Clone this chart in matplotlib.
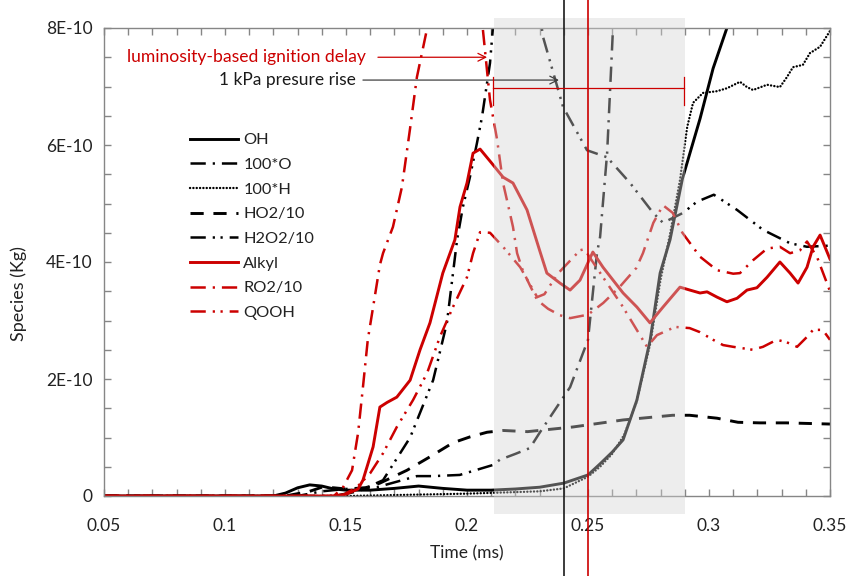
import matplotlib
matplotlib.use("Agg")
import matplotlib.pyplot as plt
import numpy as np

plt.rcParams['font.family'] = ['Lato', 'DejaVu Sans']
plt.rcParams['lines.scale_dashes'] = False

# ---------------- data (values in units of 1E-10 kg) ----------------
oh_t = [0.05, 0.12, 0.125, 0.13, 0.135, 0.14, 0.145, 0.15, 0.16, 0.17, 0.18, 0.19, 0.2, 0.21,
        0.22, 0.23, 0.24, 0.25, 0.255, 0.26, 0.2645, 0.2702, 0.2757, 0.2798, 0.2839, 0.289,
        0.2963, 0.3017, 0.3074, 0.312]
oh_y = [0, 0, 0.05, 0.14, 0.19, 0.17, 0.12, 0.1, 0.1, 0.13, 0.17, 0.13, 0.1, 0.1,
        0.12, 0.15, 0.22, 0.36, 0.55, 0.75, 0.96, 1.64, 2.67, 3.81, 4.38, 5.42,
        6.45, 7.31, 8.0, 8.6]

o_t = [0.05, 0.13, 0.14, 0.15, 0.1628, 0.1793, 0.186, 0.197, 0.2107, 0.2136, 0.22, 0.226,
       0.230, 0.2426, 0.25, 0.2537, 0.255, 0.2579, 0.2603, 0.264]
o_y = [0, 0, 0.08, 0.12, 0.15, 0.34, 0.34, 0.36, 0.53, 0.62, 0.72, 0.82,
       1.08, 1.86, 2.67, 4.15, 4.43, 5.86, 7.97, 9.5]

h_t = [0.05, 0.15, 0.2, 0.23, 0.24, 0.25, 0.255, 0.26, 0.265, 0.27, 0.2757, 0.28, 0.284,
       0.288, 0.291, 0.2934, 0.2975, 0.3033, 0.3074, 0.3128, 0.3157, 0.3182, 0.324, 0.3293,
       0.3322, 0.3347, 0.3388, 0.3417, 0.3459, 0.35]
h_y = [0, 0, 0.04, 0.08, 0.13, 0.33, 0.5, 0.72, 1.05, 1.6, 2.6, 3.7, 4.5,
       5.4, 6.31, 6.72, 6.89, 6.92, 6.97, 7.08, 6.99, 6.94, 7.03, 6.99,
       7.16, 7.33, 7.37, 7.57, 7.68, 7.95]

ho2_t = [0.05, 0.125, 0.135, 0.14, 0.145, 0.15, 0.158, 0.164, 0.1752, 0.1847, 0.1942, 0.2012,
         0.2083, 0.215, 0.225, 0.2438, 0.2645, 0.285, 0.292, 0.3033, 0.312, 0.321, 0.332, 0.35]
ho2_y = [0, 0, 0.08, 0.15, 0.14, 0.12, 0.14, 0.22, 0.44, 0.67, 0.91, 1.01,
         1.09, 1.12, 1.1, 1.18, 1.30, 1.38, 1.38, 1.33, 1.26, 1.25, 1.25, 1.23]

h2o2_t = [0.05, 0.145, 0.155, 0.1653, 0.1765, 0.186, 0.1917, 0.1959, 0.1983, 0.2012, 0.2041,
          0.2062, 0.2095, 0.2107, 0.215, 0.226, 0.2314, 0.2397, 0.2496, 0.2579, 0.2674,
          0.2769, 0.281, 0.2893, 0.295, 0.302, 0.3116, 0.3223, 0.3335, 0.3405, 0.35]
h2o2_y = [0, 0, 0.08, 0.27, 1.0, 1.98, 2.96, 4.38, 4.94, 5.45, 6.03,
          6.48, 7.4, 8.0, 9.5, 9.5, 7.85, 6.65, 5.91, 5.79, 5.35,
          4.84, 4.67, 4.84, 5.03, 5.15, 4.89, 4.55, 4.32, 4.26, 4.28]

alk_t = [0.05, 0.145, 0.15, 0.155, 0.157, 0.1612, 0.164, 0.167, 0.171, 0.1765, 0.1806, 0.1847,
         0.19, 0.195, 0.1971, 0.2, 0.2025, 0.2054, 0.21, 0.2149, 0.219, 0.2248, 0.23, 0.233,
         0.2384, 0.2426, 0.2467, 0.252, 0.2562, 0.2645, 0.2702, 0.2756, 0.281, 0.288, 0.2921,
         0.2963, 0.2992, 0.3033, 0.3074, 0.3116, 0.3157, 0.3198, 0.324, 0.3293, 0.3335,
         0.3368, 0.3405, 0.343, 0.3459, 0.35]
alk_y = [0, 0, 0.03, 0.12, 0.27, 0.84, 1.52, 1.6, 1.69, 1.98, 2.5, 2.96,
         3.81, 4.38, 4.94, 5.35, 5.86, 5.93, 5.7, 5.45, 5.35, 4.89, 4.2, 3.81,
         3.64, 3.52, 3.69, 4.17, 3.91, 3.47, 3.23, 2.96, 3.23, 3.57, 3.52,
         3.47, 3.49, 3.4, 3.32, 3.38, 3.52, 3.56, 3.74, 4.0, 3.81,
         3.64, 3.91, 4.26, 4.46, 4.05]

ro2_t = [0.05, 0.145, 0.1488, 0.1525, 0.155, 0.157, 0.159, 0.1612, 0.164, 0.1653, 0.1694,
         0.1731, 0.1764, 0.1793, 0.1834, 0.19, 0.2, 0.2065, 0.2095, 0.2124, 0.2149, 0.2165,
         0.219, 0.2207, 0.223, 0.226, 0.229, 0.2335, 0.2384, 0.2426, 0.25, 0.2563, 0.263,
         0.27, 0.2727, 0.277, 0.281, 0.285, 0.289, 0.2963, 0.3033, 0.31, 0.3128, 0.3182,
         0.324, 0.3293, 0.3335, 0.3376, 0.3405, 0.3446, 0.35]
ro2_y = [0, 0, 0.15, 0.44, 1.08, 1.86, 2.67, 3.23, 3.95, 4.15, 4.6,
         5.28, 6.26, 7.16, 7.97, 9.6, 9.6, 8.0, 6.77, 6.1, 5.35, 5.06,
         4.6, 4.15, 3.86, 3.6, 3.35, 3.2, 3.09, 3.04, 3.1, 3.3, 3.57,
         3.9, 4.15, 4.67, 4.97, 4.84, 4.5, 4.09, 3.86, 3.8, 3.81, 4.03,
         4.23, 4.26, 4.15, 4.2, 4.35, 4.09, 3.5]

qooh_t = [0.05, 0.148, 0.1545, 0.16, 0.1653, 0.171, 0.1777, 0.1835, 0.1888, 0.1942, 0.2,
          0.2025, 0.2054, 0.2095, 0.2149, 0.222, 0.229, 0.232, 0.2375, 0.2467, 0.2485, 0.252,
          0.264, 0.2744, 0.2785, 0.286, 0.292, 0.2963, 0.3017, 0.3058, 0.31, 0.318, 0.3223,
          0.328, 0.332, 0.3364, 0.3405, 0.343, 0.347, 0.35]
qooh_y = [0, 0, 0.15, 0.39, 0.73, 1.18, 1.64, 2.1, 2.72, 3.23, 3.74,
          4.15, 4.51, 4.5, 4.26, 3.91, 3.4, 3.45, 3.8, 4.2, 4.22, 4.0,
          3.26, 2.55, 2.75, 2.89, 2.87, 2.8, 2.67, 2.58, 2.55, 2.5, 2.55,
          2.67, 2.63, 2.55, 2.72, 2.84, 2.84, 2.67]

x_ticks = [0.05, 0.1, 0.15, 0.2, 0.25, 0.3, 0.35]
x_tick_labels = ["0.05", "0.1", "0.15", "0.2", "0.25", "0.3", "0.35"]
y_ticks = [0, 2, 4, 6, 8]
y_tick_labels = ["0", "2E-10", "4E-10", "6E-10", "8E-10"]

shade_start, shade_end = 0.211, 0.29
pressure_t = 0.24
lum_t = 0.25

# ---------------- figure ----------------
W, H = 850, 576
fig = plt.figure(figsize=(W / 100, H / 100), dpi=100)
ax = fig.add_axes([104 / W, 80 / H, (830 - 104) / W, (496 - 28) / H])
ax.set_xlim(0.05, 0.35)
ax.set_ylim(0, 8)

RED = '#cc0000'
BLK = '#000000'
lw = 1.8

dash_dot = (0, (11, 5, 1.6, 5))
dash_dot_dot = (0, (11, 5, 1.6, 4, 1.6, 5))

ax.plot(oh_t, oh_y, color=BLK, lw=2.1, label='OH')
ax.plot(o_t, o_y, color=BLK, lw=lw, linestyle=dash_dot, label='100*O')
ax.plot(h_t, h_y, color=BLK, lw=1.7, linestyle=(0, (0.1, 2.3)), dash_capstyle='round', label='100*H')
ax.plot(ho2_t, ho2_y, color=BLK, lw=2.1, linestyle=(0, (9.5, 7)), label='HO2/10')
ax.plot(h2o2_t, h2o2_y, color=BLK, lw=lw, linestyle=dash_dot_dot, label='H2O2/10')
ax.plot(alk_t, alk_y, color=RED, lw=2.1, label='Alkyl')
ax.plot(ro2_t, ro2_y, color=RED, lw=lw, linestyle=dash_dot, label='RO2/10')
ax.plot(qooh_t, qooh_y, color=RED, lw=lw, linestyle=dash_dot_dot, label='QOOH')

# shaded window (overlays the lines, extends outside the axes)
ax.axvspan(shade_start, shade_end, ymin=(496 - 514) / 468, ymax=(496 - 18) / 468,
           facecolor='#d2d2d2', alpha=0.4, edgecolor='none', zorder=5, clip_on=False)

# vertical markers spanning the full figure height
ax.axvline(pressure_t, ymin=-80 / 468, ymax=1 + 28 / 468, color='#1a1a1a', lw=1.2,
           zorder=6, clip_on=False)
ax.axvline(lum_t, ymin=-80 / 468, ymax=1 + 28 / 468, color=RED, lw=1.2,
           zorder=6, clip_on=False)

# annotations
ax.annotate('', xy=(0.2083, 7.5), xytext=(0.1632, 7.5),
            arrowprops=dict(arrowstyle='->', color=RED, lw=0.9, shrinkA=0, shrinkB=0,
                            mutation_scale=14), zorder=7)
ax.text(0.1583, 7.5, 'luminosity-based ignition delay', color=RED, fontsize=12.6,
        ha='right', va='center', zorder=7)
ax.annotate('', xy=(0.238, 7.11), xytext=(0.157, 7.11),
            arrowprops=dict(arrowstyle='->', color='#404040', lw=0.9, shrinkA=0, shrinkB=0,
                            mutation_scale=14), zorder=7)
ax.text(0.1541, 7.11, '1 kPa presure rise', color='#1a1a1a', fontsize=12.5,
        ha='right', va='center', zorder=7)

# red bracket
ax.plot([shade_start - 0.0003, shade_end - 0.0003], [6.97, 6.97], color=RED, lw=0.9, zorder=7,
        clip_on=False)
ax.plot([shade_start - 0.0003] * 2, [6.68, 7.17], color=RED, lw=0.9, zorder=7)
ax.plot([shade_end - 0.0003] * 2, [6.68, 7.17], color=RED, lw=0.9, zorder=7)

# axes styling
spine_col = '#868686'
for s in ax.spines.values():
    s.set_color(spine_col)
    s.set_linewidth(1.0)
ax.set_xticks(x_ticks)
ax.set_xticklabels(x_tick_labels)
ax.set_yticks(y_ticks)
ax.set_yticklabels(y_tick_labels)
ax.set_xticks(np.arange(0.05, 0.3501, 0.01), minor=True)
ax.set_yticks(np.arange(0, 8.01, 0.5), minor=True)
ax.tick_params(which='both', direction='in', top=True, right=True, color=spine_col,
               labelsize=12.5, labelcolor='#222222')
ax.tick_params(which='major', length=5, width=1.0)
ax.tick_params(which='minor', length=5, width=1.0)
ax.tick_params(axis='x', which='major', pad=16)
ax.tick_params(axis='y', which='major', pad=8)

fig.text(467 / W, 1 - 553 / H, 'Time (ms)', ha='center', va='center', fontsize=12.5,
         color='#222222')
fig.text(19 / W, 1 - 294 / H, 'Species (Kg)', ha='center', va='center', fontsize=13,
         rotation=90, color='#222222')

leg = ax.legend(loc='upper left', bbox_to_anchor=(190 / W, 1 - 133 / H),
                bbox_transform=fig.transFigure, frameon=False, fontsize=11.8,
                handlelength=2.9, handletextpad=0.35, labelspacing=0.62, borderpad=0,
                borderaxespad=0)
for t in leg.get_texts():
    t.set_color('#222222')

fig.savefig('out.png', dpi=100)
